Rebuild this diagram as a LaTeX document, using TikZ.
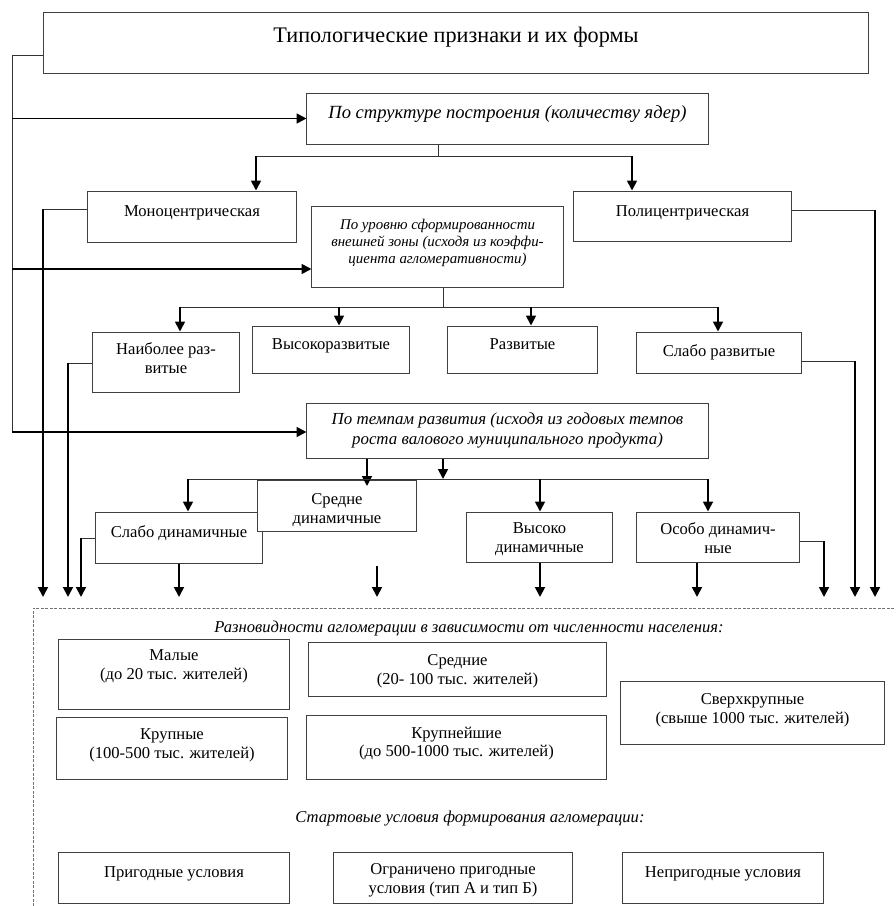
\documentclass[tikz,border=0pt]{standalone}
\usepackage{fontspec}
\setmainfont{Liberation Serif}
\usetikzlibrary{arrows.meta}

\begin{document}
\begin{tikzpicture}[
        x=0.025cm, y=-0.025cm,
        font=\fontsize{11.8pt}{13.5pt}\selectfont,
        box/.style={draw=black!75, fill=white, line width=0.7pt, align=center, inner sep=0pt, text height=0pt, text depth=0pt},
        lastline/.style={text height=#1, text depth=0pt},
        head/.style={font=\fontsize{11.8pt}{13.5pt}\selectfont\itshape},
        link/.style={draw=black!80, line width=0.7pt},
        arrow/.style={draw=black, line width=1.3pt, -{Triangle[width=7pt,length=7pt]}},
        frame/.style={draw=black!55, line width=0.7pt, dash pattern=on 2pt off 1.2pt},
        ]
        \useasboundingbox (0,0) rectangle (895,906);

        % Nodes
        \node[box, minimum width=20.6cm, minimum height=1.5cm, font=\fontsize{15.8pt}{18pt}\selectfont] (title) at (456,43) {Типологические признаки и их формы};
        \node[box, minimum width=10.025cm, minimum height=1.275cm, font=\fontsize{13.2pt}{15pt}\selectfont\itshape] (struct) at (507.5,118.5) {По структуре построения (количеству ядер)};
        \node[box, minimum width=5.2cm, minimum height=1.275cm] (mono) at (192,216.5) {Моноцентрическая};
        \node[box, minimum width=5.425cm, minimum height=1.25cm] (poly) at (682.5,216) {Полицентрическая};
        \node[box, lastline=24pt, minimum width=6.275cm, minimum height=2cm, font=\fontsize{10.6pt}{12.4pt}\selectfont\itshape] (level) at (437.5,247) {По уровню сформированности\\внешней зоны (исходя из коэффи-\\циента агломеративности)};
        \node[box, lastline=17pt, minimum width=3.65cm, minimum height=1.5cm] (most) at (166,362) {Наиболее раз-\\витые};
        \node[box, minimum width=3.9cm, minimum height=1.175cm] (high) at (331,349.5) {Высокоразвитые};
        \node[box, minimum width=3.725cm, minimum height=1.175cm] (devd) at (522.5,349.5) {Развитые};
        \node[box, lastline=5pt, minimum width=4.1cm, minimum height=1.025cm] (weak) at (719,352.5) {Слабо развитые};
        \node[box, lastline=20.6pt, minimum width=10.025cm, minimum height=1.375cm, font=\fontsize{12pt}{14.5pt}\selectfont\itshape] (pace) at (507.5,430.5) {По темпам развития (исходя из годовых темпов\\роста валового муниципального продукта)};
        \node[box, minimum width=4.15cm, minimum height=1.275cm] (slowd) at (179,537.5) {Слабо динамичные};
        \node[box, lastline=24.9pt, minimum width=3.95cm, minimum height=1.275cm] (midd) at (337,505.5) {Средне\\динамичные};
        \node[box, lastline=22.7pt, minimum width=3.625cm, minimum height=1.25cm] (highd) at (539.5,537) {Высоко\\динамичные};
        \node[box, lastline=24.1pt, minimum width=4.05cm, minimum height=1.25cm] (extd) at (718,537) {Особо динамич-\\ные};

        \node[head, anchor=base] (sizes) at (469,632) {Разновидности агломерации в зависимости от численности населения:};
        \node[box, lastline=8.5pt, minimum width=5.75cm, minimum height=1.75cm] (small) at (174,674) {Малые\\(до 20 тыс. жителей)};
        \node[box, lastline=22.7pt, minimum width=7.425cm, minimum height=1.35cm] (medium) at (457.5,669) {Средние\\(20- 100 тыс. жителей)};
        \node[box, lastline=15.6pt, minimum width=5.75cm, minimum height=1.55cm] (large) at (172,748) {Крупные\\(100-500 тыс. жителей)};
        \node[box, lastline=14.2pt, minimum width=7.475cm, minimum height=1.6cm] (largest) at (456.5,747) {Крупнейшие\\(до 500-1000 тыс. жителей)};
        \node[box, lastline=16.3pt, minimum width=6.575cm, minimum height=1.575cm] (huge) at (752.5,712.5) {Сверхкрупные\\(свыше 1000 тыс. жителей)};

        \node[head, anchor=base] (start) at (470,822) {Стартовые условия формирования агломерации:};
        \node[box, minimum width=5.75cm, minimum height=1.275cm] (fit) at (174,877.5) {Пригодные условия};
        \node[box, lastline=23.4pt, minimum width=5.95cm, minimum height=1.275cm] (limited) at (453,877.5) {Ограничено пригодные\\условия (тип А и тип Б)};
        \node[box, minimum width=5cm, minimum height=1.275cm] (unfit) at (723,877.5) {Непригодные условия};

        % Dashed frame
        \draw[frame] (33,906) -- (33,608) -- (895,608);

        % Bend points and free ends
        \coordinate (tb) at (12,55);
        \coordinate (lv) at (12,269);
        \coordinate (tt) at (12,432);
        \coordinate (j1) at (438,156);
        \coordinate (m1) at (256,156);
        \coordinate (p1) at (632,156);
        \coordinate (j2) at (443,307);
        \coordinate (a1) at (180,307);
        \coordinate (a2) at (339,307);
        \coordinate (a3) at (531,307);
        \coordinate (a4) at (718,307);
        \coordinate (k0) at (443,479);
        \coordinate (k1) at (367,486);
        \coordinate (c1) at (188,479);
        \coordinate (c3) at (540,479);
        \coordinate (c4) at (708,479);
        \coordinate (bot) at (0,597);
        \coordinate (mb) at (43,209);
        \coordinate (nb) at (68,363);
        \coordinate (sb) at (81,538);
        \coordinate (fa) at (377,566);
        \coordinate (ex) at (697,597);
        \coordinate (ob) at (824,541);
        \coordinate (wb) at (855,361);
        \coordinate (pb) at (875,210);

        % Trunk
        \draw[link] (title.west |- tb) -- (tb) -- (tt);
        \draw[arrow] (tb |- struct) -- (struct.west);
        \draw[arrow] (lv) -- (lv -| level.west);
        \draw[arrow] (tt) -- (tt -| pace.west);

        % Structure
        \draw[link] (struct.south -| j1) -- (j1);
        \draw[link] (m1) -- (p1);
        \draw[arrow] (m1) -- (m1 |- mono.north);
        \draw[arrow] (p1) -- (p1 |- poly.north);

        % Level
        \draw[link] (level.south -| j2) -- (j2);
        \draw[link] (a1) -- (a4);
        \draw[arrow] (a1) -- (a1 |- most.north);
        \draw[arrow] (a2) -- (a2 |- high.north);
        \draw[arrow] (a3) -- (a3 |- devd.north);
        \draw[arrow] (a4) -- (a4 |- weak.north);

        % Pace
        \draw[arrow] (pace.south -| k1) -- (k1);
        \draw[arrow] (pace.south -| k0) -- (k0);
        \draw[link] (c1) -- (c4);
        \draw[arrow] (c1) -- (c1 |- slowd.north);
        \draw[arrow] (c3) -- (c3 |- highd.north);
        \draw[arrow] (c4) -- (c4 |- extd.north);

        % Down to the frame
        \draw[link] (mono.west |- mb) -- (mb);
        \draw[arrow] (mb) -- (mb |- bot);
        \draw[link] (most.west |- nb) -- (nb);
        \draw[arrow] (nb) -- (nb |- bot);
        \draw[link] (slowd.west |- sb) -- (sb);
        \draw[arrow] (sb) -- (sb |- bot);
        \draw[arrow] (slowd.south) -- (slowd.south |- bot);
        \draw[arrow] (fa) -- (fa |- bot);
        \draw[arrow] (highd.south -| c3) -- (c3 |- bot);
        \draw[arrow] (extd.south -| ex) -- (ex);
        \draw[link] (extd.east |- ob) -- (ob);
        \draw[arrow] (ob) -- (ob |- bot);
        \draw[link] (weak.east |- wb) -- (wb);
        \draw[arrow] (wb) -- (wb |- bot);
        \draw[link] (poly.east |- pb) -- (pb);
        \draw[arrow] (pb) -- (pb |- bot);

    \end{tikzpicture}
\end{document}
